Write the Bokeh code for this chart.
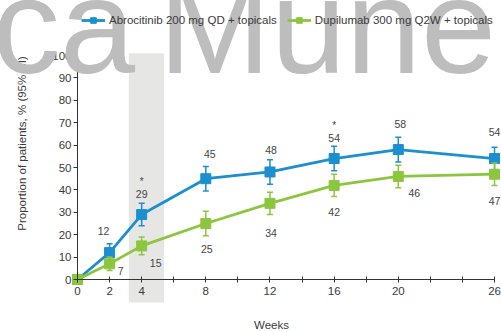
import math
from bokeh.plotting import figure
from bokeh.models import Range1d, FixedTicker, Legend, LegendItem, Label, ColumnDataSource
from bokeh.core.properties import value
from bokeh.embed import file_html
from bokeh.resources import INLINE

# ---------------- data ----------------
weeks = [0, 2, 4, 8, 12, 16, 20, 26]
abro = [0, 12, 29, 45, 48, 54, 58, 54]
abro_lo = [0, 8, 24, 39.5, 42.5, 48.5, 52.5, 49]
abro_hi = [0, 16, 34, 50.5, 53.5, 59.5, 63.5, 59]
dupi = [0, 7, 15, 25, 34, 42, 46, 47]
dupi_lo = [0, 4, 11, 19.5, 29, 37, 41, 42]
dupi_hi = [0, 10, 19, 30.5, 39, 47, 51, 52]
abro_sig_weeks = [4, 16]
series_names = ["Abrocitinib 200 mg QD + topicals", "Dupilumab 300 mg Q2W + topicals"]
x_ticks = list(range(0, 27, 2))
x_tick_labels = ["0", "2", "4", "", "8", "", "12", "", "16", "", "20", "", "", "26"]
y_ticks = list(range(0, 101, 10))
highlight_weeks = (3.2, 5.4)
x_title = "Weeks"
y_title = "Proportion of patients, % (95% CI)"
watermark = ["ca", "Muner"]

# ---------------- layout / style ----------------
FONT = "Liberation Sans"
BLUE = "#1b8fcf"
GREEN = "#8cc63e"
TXT = "#3a3a3a"
FIG_W, FIG_H = 501, 332
X0_PX, PX_PER_WEEK = 77.0, 16.04     # canvas px of week 0, px per week
Y0_PX, PX_PER_PCT = 279.0, 2.24      # canvas px of 0 %, px per %


def dx(px):
    return (px - X0_PX) / PX_PER_WEEK


def dy(py):
    return (Y0_PX - py) / PX_PER_PCT


p = figure(width=FIG_W, height=FIG_H,
           x_range=Range1d(dx(0), dx(FIG_W)),
           y_range=Range1d(dy(FIG_H), dy(0)),
           output_backend="svg", toolbar_location=None,
           min_border_left=0, min_border_right=0,
           min_border_top=0, min_border_bottom=0)
p.outline_line_color = None
p.xgrid.visible = False
p.ygrid.visible = False
p.background_fill_color = "white"

# axes drawn at data 0
for ax in (p.xaxis[0], p.yaxis[0]):
    ax.fixed_location = 0
    ax.axis_line_color = "#333333"
    ax.axis_line_width = 1
    ax.major_tick_line_color = "#333333"
    ax.minor_tick_line_color = None
    ax.major_label_text_font = FONT
    ax.major_label_text_font_size = "11.5px"
    ax.major_label_text_color = TXT

p.xaxis.bounds = (0, 26)
p.xaxis.ticker = FixedTicker(ticks=x_ticks)
p.xaxis.major_label_overrides = {t: lab for t, lab in zip(x_ticks, x_tick_labels)}
p.xaxis.major_tick_in = 3
p.xaxis.major_tick_out = 3
p.xaxis.major_label_standoff = 4

p.yaxis.bounds = (0, 100)
p.yaxis.ticker = FixedTicker(ticks=y_ticks)
p.yaxis.major_tick_in = 0
p.yaxis.major_tick_out = 4
p.yaxis.major_label_standoff = 2

# highlighted week-4 band
p.quad(left=[highlight_weeks[0]], right=[highlight_weeks[1]], bottom=[dy(302)], top=[101],
       fill_color="#e6e6e4", line_color=None)

renderers = []
for ys, lo, hi, col in ((abro, abro_lo, abro_hi, BLUE), (dupi, dupi_lo, dupi_hi, GREEN)):
    p.segment(x0=weeks, y0=lo, x1=weeks, y1=hi, line_color=col, line_width=1.5)
    p.scatter(x=weeks, y=lo, marker="dash", size=6, line_color=col, line_width=1.5)
    p.scatter(x=weeks, y=hi, marker="dash", size=6, line_color=col, line_width=1.5)
    lr = p.line(x=weeks, y=ys, line_color=col, line_width=2.8)
    mr = p.scatter(x=weeks, y=ys, marker="square", size=10, fill_color=col, line_color=col)
    renderers.append((lr, mr))

# value labels (offsets in screen px)
abro_dx = [0, -6, 0, 4, 1, 0, 2, 0]
abro_dy = [0, -22, -21, -25, -22, -21, -26, -27]
dupi_dx = [0, 11, 14, 1, 1, 0, 16, 0]
dupi_dy = [0, 7, 17, 25, 30, 27, 17, 27]
for ys, ox, oy in ((abro, abro_dx, abro_dy), (dupi, dupi_dx, dupi_dy)):
    src = ColumnDataSource(dict(x=weeks[1:], y=ys[1:], t=[str(v) for v in ys[1:]],
                                ox=ox[1:], oy=oy[1:]))
    p.text(x="x", y="y", text="t", x_offset="ox", y_offset="oy", source=src,
           text_font=value(FONT), text_font_size="10.5px", text_color="#444444",
           text_align="center", text_baseline="middle")

sig_y = [abro[weeks.index(w)] for w in abro_sig_weeks]
p.text(x=abro_sig_weeks, y=sig_y, text=["*"] * len(abro_sig_weeks), y_offset=-33,
       text_font=value(FONT), text_font_size="10px", text_color="#444444",
       text_align="center", text_baseline="middle")

# legend
legend = Legend(items=[LegendItem(label=n, renderers=list(r)) for n, r in zip(series_names, renderers)],
                orientation="horizontal", location=(81, FIG_H - 27),
                glyph_width=24, glyph_height=14, label_height=14, label_standoff=4,
                spacing=10, padding=0, margin=0,
                border_line_alpha=0, background_fill_alpha=0,
                label_text_font=FONT, label_text_font_size="11.5px", label_text_color=TXT)
p.add_layout(legend)

# axis titles
p.add_layout(Label(x=dx(21), y=dy(143), text=y_title, angle=math.pi / 2,
                   text_align="center", text_baseline="middle",
                   text_font=FONT, text_font_size="11.5px", text_color=TXT))
p.add_layout(Label(x=dx(271), y=dy(324), text=x_title,
                   text_align="center", text_baseline="middle",
                   text_font=FONT, text_font_size="11.5px", text_color=TXT))

# watermark overlay (drawn above the plot marks)
p.text(x=[dx(-8), dx(158)], y=[dy(26), dy(26)], text=watermark,
       text_font=value(FONT), text_font_size="135px", text_color="#bdbdbd",
       text_align="left", text_baseline="middle", level="overlay")

open("out.html", "w").write(file_html(p, INLINE))
